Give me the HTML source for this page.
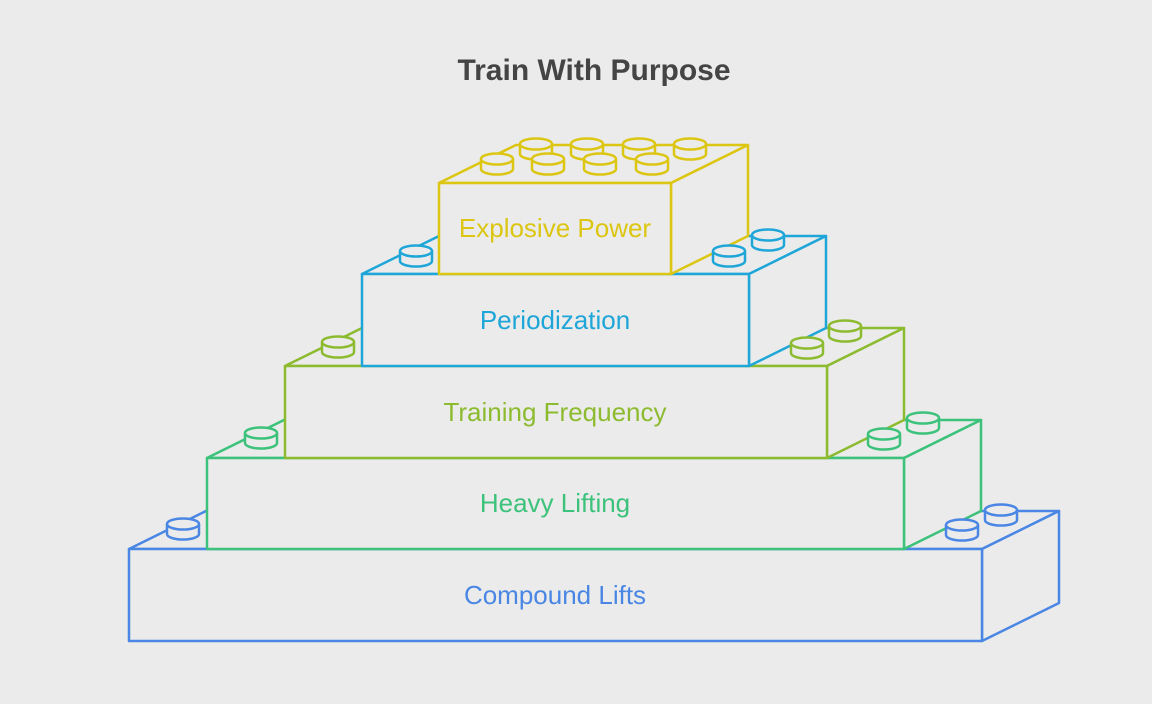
<!DOCTYPE html>
<html><head><meta charset="utf-8"><style>
html,body{margin:0;padding:0;background:#ebebeb;}
svg{display:block}
text{font-family:"Liberation Sans",sans-serif;}
</style></head><body>
<svg width="1152" height="704" viewBox="0 0 1152 704" xmlns="http://www.w3.org/2000/svg">
<defs>
<g id="stud"><path d="M-16,0 V10 A16,5.5 0 0 0 16,10 V0" fill="#ebebeb"/><ellipse cx="0" cy="0" rx="16" ry="5.5" fill="#ebebeb"/></g>
</defs>
<rect width="1152" height="704" fill="#ebebeb"/>
<text x="594" y="80" text-anchor="middle" font-size="30" font-weight="bold" fill="#444">Train With Purpose</text>

<g stroke="#4a86e4" stroke-width="2.5" fill="#ebebeb" stroke-linejoin="round">
<polygon points="129,549 206,511 1059,511 982,549"/>
<polygon points="982,549 1059,511 1059,603 982,641"/>
<rect x="129" y="549" width="853" height="92"/>
</g>
<text x="555" y="604" text-anchor="middle" font-size="26" fill="#4a86e4">Compound Lifts</text>

<g stroke="#3cc27a" stroke-width="2.5" fill="#ebebeb" stroke-linejoin="round">
<polygon points="207,458 284,420 981,420 904,458"/>
<polygon points="904,458 981,420 981,511 904,549"/>
<rect x="207" y="458" width="697" height="91"/>
</g>
<text x="555" y="512" text-anchor="middle" font-size="26" fill="#3cc27a">Heavy Lifting</text>

<g stroke="#8dbb30" stroke-width="2.5" fill="#ebebeb" stroke-linejoin="round">
<polygon points="285,366 362,328 904,328 827,366"/>
<polygon points="827,366 904,328 904,420 827,458"/>
<rect x="285" y="366" width="542" height="92"/>
</g>
<text x="555" y="421" text-anchor="middle" font-size="26" fill="#8dbb30">Training Frequency</text>

<g stroke="#1fa6d8" stroke-width="2.5" fill="#ebebeb" stroke-linejoin="round">
<polygon points="362,274 439,236 826,236 749,274"/>
<polygon points="749,274 826,236 826,328 749,366"/>
<rect x="362" y="274" width="387" height="92"/>
</g>
<text x="555" y="329" text-anchor="middle" font-size="26" fill="#1fa6d8">Periodization</text>

<g stroke="#dcc612" stroke-width="2.5" fill="#ebebeb" stroke-linejoin="round">
<polygon points="439,183 516,145 748,145 671,183"/>
<polygon points="671,183 748,145 748,236 671,274"/>
<rect x="439" y="183" width="232" height="91"/>
</g>
<text x="555" y="237" text-anchor="middle" font-size="26" fill="#dcc612">Explosive Power</text>

<g stroke="#4a86e4" stroke-width="2.5"><use href="#stud" x="183" y="524"/><use href="#stud" x="962" y="525"/><use href="#stud" x="1001" y="510"/></g>
<g stroke="#3cc27a" stroke-width="2.5"><use href="#stud" x="261" y="433"/><use href="#stud" x="884" y="434"/><use href="#stud" x="923" y="418"/></g>
<g stroke="#8dbb30" stroke-width="2.5"><use href="#stud" x="338" y="342"/><use href="#stud" x="807" y="343"/><use href="#stud" x="845" y="326"/></g>
<g stroke="#1fa6d8" stroke-width="2.5"><use href="#stud" x="416" y="251"/><use href="#stud" x="729" y="251"/><use href="#stud" x="768" y="235"/></g>
<g stroke="#dcc612" stroke-width="2.5">
<use href="#stud" x="536" y="144"/><use href="#stud" x="587" y="144"/><use href="#stud" x="639" y="144"/><use href="#stud" x="690" y="144"/>
<use href="#stud" x="497" y="159"/><use href="#stud" x="548" y="159"/><use href="#stud" x="600" y="159"/><use href="#stud" x="652" y="159"/>
</g>
</svg>
</body></html>
